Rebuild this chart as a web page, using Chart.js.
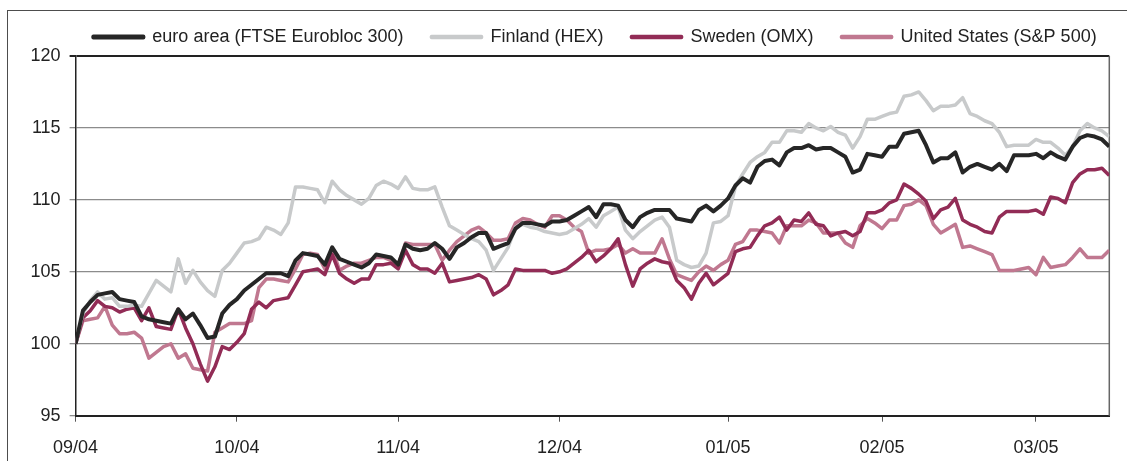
<!DOCTYPE html>
<html lang="en">
<head>
<meta charset="UTF-8">
<title>Stock market indices</title>
<script src="https://cdn.jsdelivr.net/npm/chart.js@4.4.1/dist/chart.umd.min.js"></script>
<style>
  html, body { margin: 0; padding: 0; background: #fff; overflow: hidden; }
  .wrap { position: relative; width: 1127px; height: 461px; overflow: hidden; }
  .frame { position: absolute; left: 7px; top: 10px; width: 1200px; height: 500px; border: 1.5px solid #4d4d4d; }
  canvas { position: absolute; left: 0; top: 0; }
</style>
</head>
<body>
<div class="wrap">
  <div class="frame"></div>
  <canvas id="chart" width="1190" height="461"></canvas>
</div>

<script>
// daily index values, 1 September 2004 = 100
const tickLabels = ['09/04', '10/04', '11/04', '12/04', '01/05', '02/05', '03/05'];
const monthStart = [0, 22, 44, 66, 89, 110, 131]; // index of first trading day in each month

const euroArea = [
  100, 102.3, 102.9, 103.4, 103.5, 103.6, 103.1, 103.0, 102.9, 101.9,
  101.7, 101.6, 101.5, 101.4, 102.4, 101.7, 102.1, 101.3, 100.4, 100.5,
  102.1, 102.7, 103.1, 103.7, 104.1, 104.5, 104.9, 104.9, 104.9, 104.7,
  105.8, 106.3, 106.2, 106.1, 105.5, 106.7, 105.9, 105.7, 105.5, 105.3,
  105.6, 106.2, 106.1, 106.0, 105.5, 106.9, 106.6, 106.5, 106.6, 107.0,
  106.6, 105.9, 106.7, 107.0, 107.4, 107.7, 107.7, 106.6, 106.8, 107.0,
  108.0, 108.4, 108.4, 108.3, 108.2, 108.5, 108.5, 108.6, 108.9, 109.2,
  109.5, 108.8, 109.7, 109.7, 109.6, 108.6, 108.1, 108.8, 109.1, 109.3,
  109.3, 109.3, 108.7, 108.6, 108.5, 109.3, 109.6, 109.2, 109.6, 110.1,
  111.0, 111.5, 111.2, 112.3, 112.7, 112.8, 112.4, 113.3, 113.6, 113.6,
  113.8, 113.5, 113.6, 113.6, 113.3, 113.0, 111.9, 112.1, 113.2, 113.1,
  113.0, 113.7, 113.7, 114.6, 114.7, 114.8, 113.8, 112.6, 112.9, 112.9,
  113.3, 111.9, 112.3, 112.5, 112.3, 112.1, 112.5, 112.0, 113.1, 113.1,
  113.1, 113.2, 112.9, 113.3, 113.0, 112.8, 113.7, 114.3, 114.5, 114.4,
  114.2, 113.7
];

const finland = [
  100, 102.1, 103.0, 103.6, 103.1, 103.2, 102.6, 102.6, 102.7, 102.6,
  103.5, 104.4, 104.0, 103.6, 105.9, 104.2, 105.1, 104.3, 103.7, 103.3,
  105.1, 105.6, 106.3, 107.0, 107.1, 107.3, 108.1, 107.9, 107.6, 108.4,
  110.9, 110.9, 110.8, 110.7, 109.8, 111.3, 110.7, 110.3, 110.0, 109.7,
  110.1, 111.0, 111.3, 111.1, 110.8, 111.6, 110.8, 110.7, 110.7, 110.9,
  109.5, 108.2, 107.9, 107.6, 107.3, 107.1, 106.5, 105.1, 105.9, 106.7,
  108.1, 108.3, 108.1, 108.0, 107.8, 107.7, 107.6, 107.7, 108.0, 108.3,
  108.7, 108.1, 108.9, 109.2, 109.5, 107.9, 107.3, 107.8, 108.2, 108.6,
  108.8, 108.1, 105.8, 105.5, 105.3, 105.4, 106.3, 108.4, 108.5, 108.9,
  110.9, 111.8, 112.6, 113.0, 113.3, 114.0, 114.0, 114.8, 114.8, 114.7,
  115.3, 115.0, 114.8, 115.1, 114.7, 114.5, 113.6, 114.4, 115.6, 115.6,
  115.8, 116.0, 116.1, 117.2, 117.3, 117.5, 116.9, 116.2, 116.5, 116.5,
  116.6, 117.1, 116.0, 115.8, 115.5, 115.3, 114.7, 113.7, 113.8, 113.8,
  113.8, 114.2, 114.0, 114.0, 113.6, 113.1, 113.7, 114.8, 115.3, 115.0,
  114.8, 114.4
];

const sweden = [
  100, 101.8, 102.3, 103.0, 102.6, 102.5, 102.2, 102.4, 102.5, 101.6,
  102.5, 101.2, 101.1, 101.0, 102.4, 101.1, 100.0, 98.6, 97.4, 98.4,
  99.8, 99.6, 100.1, 100.7, 102.4, 102.9, 102.5, 103.0, 103.1, 103.2,
  104.1, 105.0, 105.1, 105.2, 104.8, 106.2, 104.9, 104.5, 104.2, 104.5,
  104.5, 105.5, 105.5, 105.6, 105.2, 106.5, 105.5, 105.2, 105.2, 104.9,
  105.6, 104.3, 104.4, 104.5, 104.6, 104.8, 104.5, 103.4, 103.7, 104.1,
  105.2, 105.1, 105.1, 105.1, 105.1, 104.9, 105.0, 105.2, 105.6, 106.0,
  106.5, 105.7, 106.1, 106.6, 107.3, 105.5, 104.0, 105.2, 105.6, 105.9,
  105.7, 105.6, 104.4, 103.9, 103.1, 104.2, 104.9, 104.1, 104.5, 104.9,
  106.4, 106.6, 106.7, 107.5, 108.2, 108.4, 108.8, 107.9, 108.6, 108.5,
  109.1, 108.3, 108.2, 107.5, 107.7, 107.8, 107.5, 107.8, 109.1, 109.1,
  109.3, 109.8, 110.0, 111.1, 110.8, 110.4, 109.9, 108.7, 109.3, 109.5,
  110.1, 108.6, 108.3, 108.1, 107.8, 107.7, 108.8, 109.2, 109.2, 109.2,
  109.2, 109.3, 109.0, 110.2, 110.1, 109.8, 111.2, 111.8, 112.1, 112.1,
  112.2, 111.7
];

const unitedStates = [
  100, 101.6, 101.7, 101.8, 102.6, 101.3, 100.7, 100.7, 100.8, 100.4,
  99.0, 99.4, 99.8, 100.0, 99.0, 99.3, 98.3, 98.2, 98.1, 100.8,
  101.1, 101.4, 101.4, 101.4, 101.6, 103.9, 104.5, 104.5, 104.4, 104.3,
  105.2, 106.2, 106.3, 106.2, 105.2, 106.6, 105.1, 105.4, 105.6, 105.6,
  105.8, 106.0, 106.0, 105.8, 105.5, 107.0, 106.9, 106.9, 106.9, 106.9,
  105.8, 106.5, 107.1, 107.5, 107.9, 108.1, 107.7, 107.2, 107.2, 107.3,
  108.4, 108.7, 108.6, 108.3, 108.1, 108.9, 108.9, 108.6, 108.1, 107.8,
  106.3, 106.5, 106.5, 106.6, 106.9, 106.3, 106.6, 106.3, 106.3, 106.3,
  107.3, 105.9, 104.8, 104.6, 104.4, 105.0, 105.4, 105.1, 105.5, 105.8,
  106.9, 107.1, 107.9, 107.9, 107.8, 107.7, 107.0, 108.2, 108.2, 108.2,
  108.6, 108.4, 107.7, 107.7, 107.7, 107.0, 106.7, 108.2, 108.7, 108.4,
  108.0, 108.6, 108.6, 109.6, 109.7, 110.0, 109.6, 108.3, 107.7, 108.0,
  108.3, 106.7, 106.8, 106.6, 106.4, 106.2, 105.1, 105.1, 105.1, 105.2,
  105.3, 104.8, 106.0, 105.3, 105.4, 105.5, 106.0, 106.6, 106.0, 106.0,
  106.0, 106.5
];

const FONT = "'Liberation Sans', Arial, Helvetica, sans-serif";
const TEXT = '#222';

function points(values) {
  return values.map((v, i) => ({ x: i, y: v }));
}

// right hand edge of the plot box
const rightBorder = {
  id: 'rightBorder',
  beforeDatasetsDraw(chart) {
    const { ctx, chartArea: a } = chart;
    ctx.save();
    ctx.strokeStyle = '#666';
    ctx.lineWidth = 1.5;
    ctx.beginPath();
    ctx.moveTo(a.right, a.top);
    ctx.lineTo(a.right, a.bottom);
    ctx.stroke();
    ctx.restore();
  }
};

new Chart(document.getElementById('chart'), {
  type: 'line',
  data: {
    datasets: [
      { label: 'euro area (FTSE Eurobloc 300)', data: points(euroArea), borderColor: '#262626', backgroundColor: '#262626', borderWidth: 4 },
      { label: 'Finland (HEX)', data: points(finland), borderColor: '#c8cacb', backgroundColor: '#c8cacb', borderWidth: 3.5 },
      { label: 'Sweden (OMX)', data: points(sweden), borderColor: '#922c56', backgroundColor: '#922c56', borderWidth: 3.5 },
      { label: 'United States (S&P 500)', data: points(unitedStates), borderColor: '#c07890', backgroundColor: '#c07890', borderWidth: 3.5 }
    ]
  },
  options: {
    responsive: false,
    animation: false,
    layout: { padding: { top: 0, left: 0, right: 0, bottom: 0 } },
    elements: {
      point: { radius: 0 },
      line: { tension: 0, borderJoinStyle: 'round' }
    },
    plugins: {
      tooltip: { enabled: false },
      legend: {
        position: 'top',
        labels: {
          boxWidth: 50,
          boxHeight: 1,
          padding: 28,
          color: TEXT,
          font: { family: FONT, size: 18 }
        }
      }
    },
    scales: {
      x: {
        type: 'linear',
        min: 0,
        max: euroArea.length - 1,
        afterBuildTicks: s => { s.ticks = monthStart.map(v => ({ value: v })); },
        afterFit: s => { s.height = 45.3; },
        grid: { drawOnChartArea: false, drawTicks: true, tickLength: 6, color: '#555', lineWidth: 1 },
        border: { color: '#222', width: 2 },
        ticks: {
          autoSkip: false,
          maxRotation: 0,
          padding: 16,
          color: TEXT,
          font: { family: FONT, size: 18 },
          callback: v => tickLabels[monthStart.indexOf(v)]
        }
      },
      y: {
        min: 95,
        max: 120,
        afterFit: s => { s.width = 75.6; },
        grid: {
          color: c => (c.tick && c.tick.value === 120 ? '#222' : '#8c8c8c'),
          lineWidth: c => (c.tick && c.tick.value === 120 ? 2 : 1.3),
          tickLength: 6
        },
        border: { color: '#222', width: 1.5 },
        ticks: { stepSize: 5, padding: 9, color: TEXT, font: { family: FONT, size: 18 } }
      },
      // empty axis on the right, only keeps the legend centred over the frame
      spacer: {
        type: 'linear',
        position: 'right',
        grid: { display: false },
        ticks: { display: false },
        border: { display: false },
        afterFit: s => { s.width = 80.7; }
      }
    }
  },
  plugins: [rightBorder]
});
</script>
</body>
</html>
